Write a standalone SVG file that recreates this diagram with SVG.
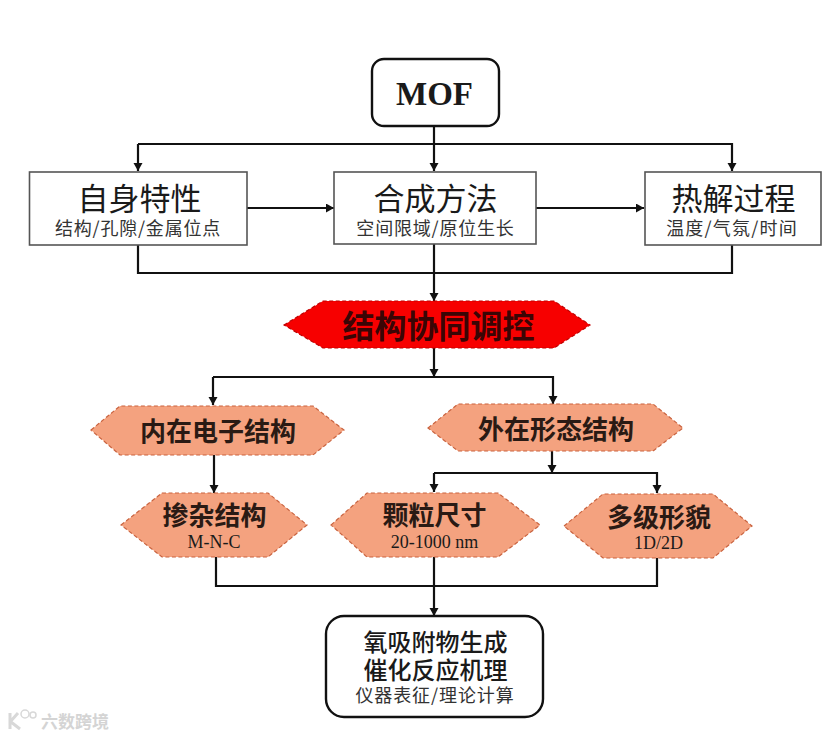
<svg xmlns="http://www.w3.org/2000/svg" width="831" height="737" viewBox="0 0 831 737">
<style>
text{font-family:"Noto Sans CJK SC","Noto Sans",sans-serif;text-anchor:middle;fill:#1a1a1a}
.latin{font-family:"Liberation Serif","Noto Sans CJK SC",serif}
.box{fill:#fff;stroke:#555;stroke-width:1.6}
.round{fill:#fff;stroke:#111;stroke-width:2.4}
.hex{fill:#f4a27f;stroke:#c9633f;stroke-width:1.2;stroke-dasharray:4 2.5}
.red{fill:#f70000;stroke:#c00000;stroke-width:1.2;stroke-dasharray:4 2.5}
.conn{fill:none;stroke:#111;stroke-width:2.2}
.t1{font-size:31px}
.t2{font-size:18px;fill:#333;letter-spacing:.8px}
.t3{font-size:26px;font-weight:700;fill:#2a1a14}
.t4{font-size:26px;font-weight:700;fill:#2a1a14}
.t5{font-size:24px;font-weight:500}
.t6{font-size:18px;fill:#333;letter-spacing:.9px}
.sub{font-size:18px}
.wm{font-size:17px;font-weight:700;fill:#d4d4d4}
.wml{fill:none;stroke:#d8d8d8}
</style>
<defs>
<marker id="arrow" markerUnits="userSpaceOnUse" markerWidth="10" markerHeight="10" refX="8" refY="4.5" orient="auto"><path d="M0 0L8 4.5L0 9Z" fill="#111"/></marker>
</defs>
<rect width="831" height="737" fill="#fff"/>
<g id="connectors">
<path class="conn" d="M434 126V171" marker-end="url(#arrow)"/>
<path class="conn" d="M138 144H732V171" marker-end="url(#arrow)"/>
<path class="conn" d="M138 144V171" marker-end="url(#arrow)"/>
<path class="conn" d="M247 208H334" marker-end="url(#arrow)"/>
<path class="conn" d="M536 208H644" marker-end="url(#arrow)"/>
<path class="conn" d="M138 245V273H732V245"/>
<path class="conn" d="M434 244V301" marker-end="url(#arrow)"/>
<path class="conn" d="M434 348V377" marker-end="url(#arrow)"/>
<path class="conn" d="M213 377H553V404" marker-end="url(#arrow)"/>
<path class="conn" d="M213 377V405" marker-end="url(#arrow)"/>
<path class="conn" d="M214 455V493" marker-end="url(#arrow)"/>
<path class="conn" d="M552 451V473" marker-end="url(#arrow)"/>
<path class="conn" d="M434 473H657V493" marker-end="url(#arrow)"/>
<path class="conn" d="M434 473V492" marker-end="url(#arrow)"/>
<path class="conn" d="M216 557V586H657V558"/>
<path class="conn" d="M434 557V616" marker-end="url(#arrow)"/>
</g>
<g id="mof"><rect class="round" x="372" y="59" width="127" height="67" rx="12"/><text class="latin" x="434.500" y="105" font-size="33" font-weight="700">MOF</text></g>
<g id="self"><rect class="box" x="29.500" y="172" width="217.500" height="73"/><text class="t1" x="139.500" y="210">自身特性</text><text class="t2" x="138" y="235">结构/孔隙/金属位点</text></g>
<g id="synth"><rect class="box" x="334" y="172" width="202" height="72"/><text class="t1" x="435.500" y="210">合成方法</text><text class="t2" x="435.500" y="235">空间限域/原位生长</text></g>
<g id="pyro"><rect class="box" x="645" y="172" width="176" height="73"/><text class="t1" x="733.500" y="210">热解过程</text><text class="t2" x="732" y="235" style="letter-spacing:1.2px">温度/气氛/时间</text></g>
<g id="core"><polygon class="red" points="284,325 323,301 554,301 590,325 554,348 323,348"/><text x="438.500" y="338" font-size="32" font-weight="700" style="fill:#3a0505">结构协同调控</text></g>
<g id="inner"><polygon class="hex" points="91,430 120,406 313,406 344,430 313,455 120,455"/><text class="t3" x="218" y="441">内在电子结构</text></g>
<g id="outer"><polygon class="hex" points="428,428 458,404 653,404 683,428 653,451 458,451"/><text class="t3" x="556" y="439">外在形态结构</text></g>
<g id="dope"><polygon class="hex" points="121,525 162,493 268,493 307,525 268,557 162,557"/><text class="t4" x="214.500" y="525">掺杂结构</text><text class="latin sub" x="214" y="548">M-N-C</text></g>
<g id="particle"><polygon class="hex" points="331,525 367,493 498,493 540,525 498,557 367,557"/><text class="t4" x="434.500" y="525">颗粒尺寸</text><text class="latin sub" x="434.500" y="548">20-1000 nm</text></g>
<g id="multi"><polygon class="hex" points="564,526 603,494 713,494 752,526 713,558 603,558"/><text class="t4" x="659" y="527">多级形貌</text><text class="latin sub" x="658.500" y="549">1D/2D</text></g>
<g id="result"><rect class="round" x="326" y="616" width="217" height="101" rx="18"/><text class="t5" x="435.500" y="651">氧吸附物生成</text><text class="t5" x="435.500" y="679">催化反应机理</text><text class="t6" x="435" y="702">仪器表征/理论计算</text></g>
<g id="watermark"><path class="wml" d="M10 713V729M10 722L18 713M11 722L20 729" stroke-width="3"/><circle class="wml" cx="25" cy="714" r="4" stroke-width="1.5"/><circle class="wml" cx="33" cy="715" r="3" stroke-width="1.5"/><text class="wm" x="75" y="728">六数跨境</text></g>
</svg>
